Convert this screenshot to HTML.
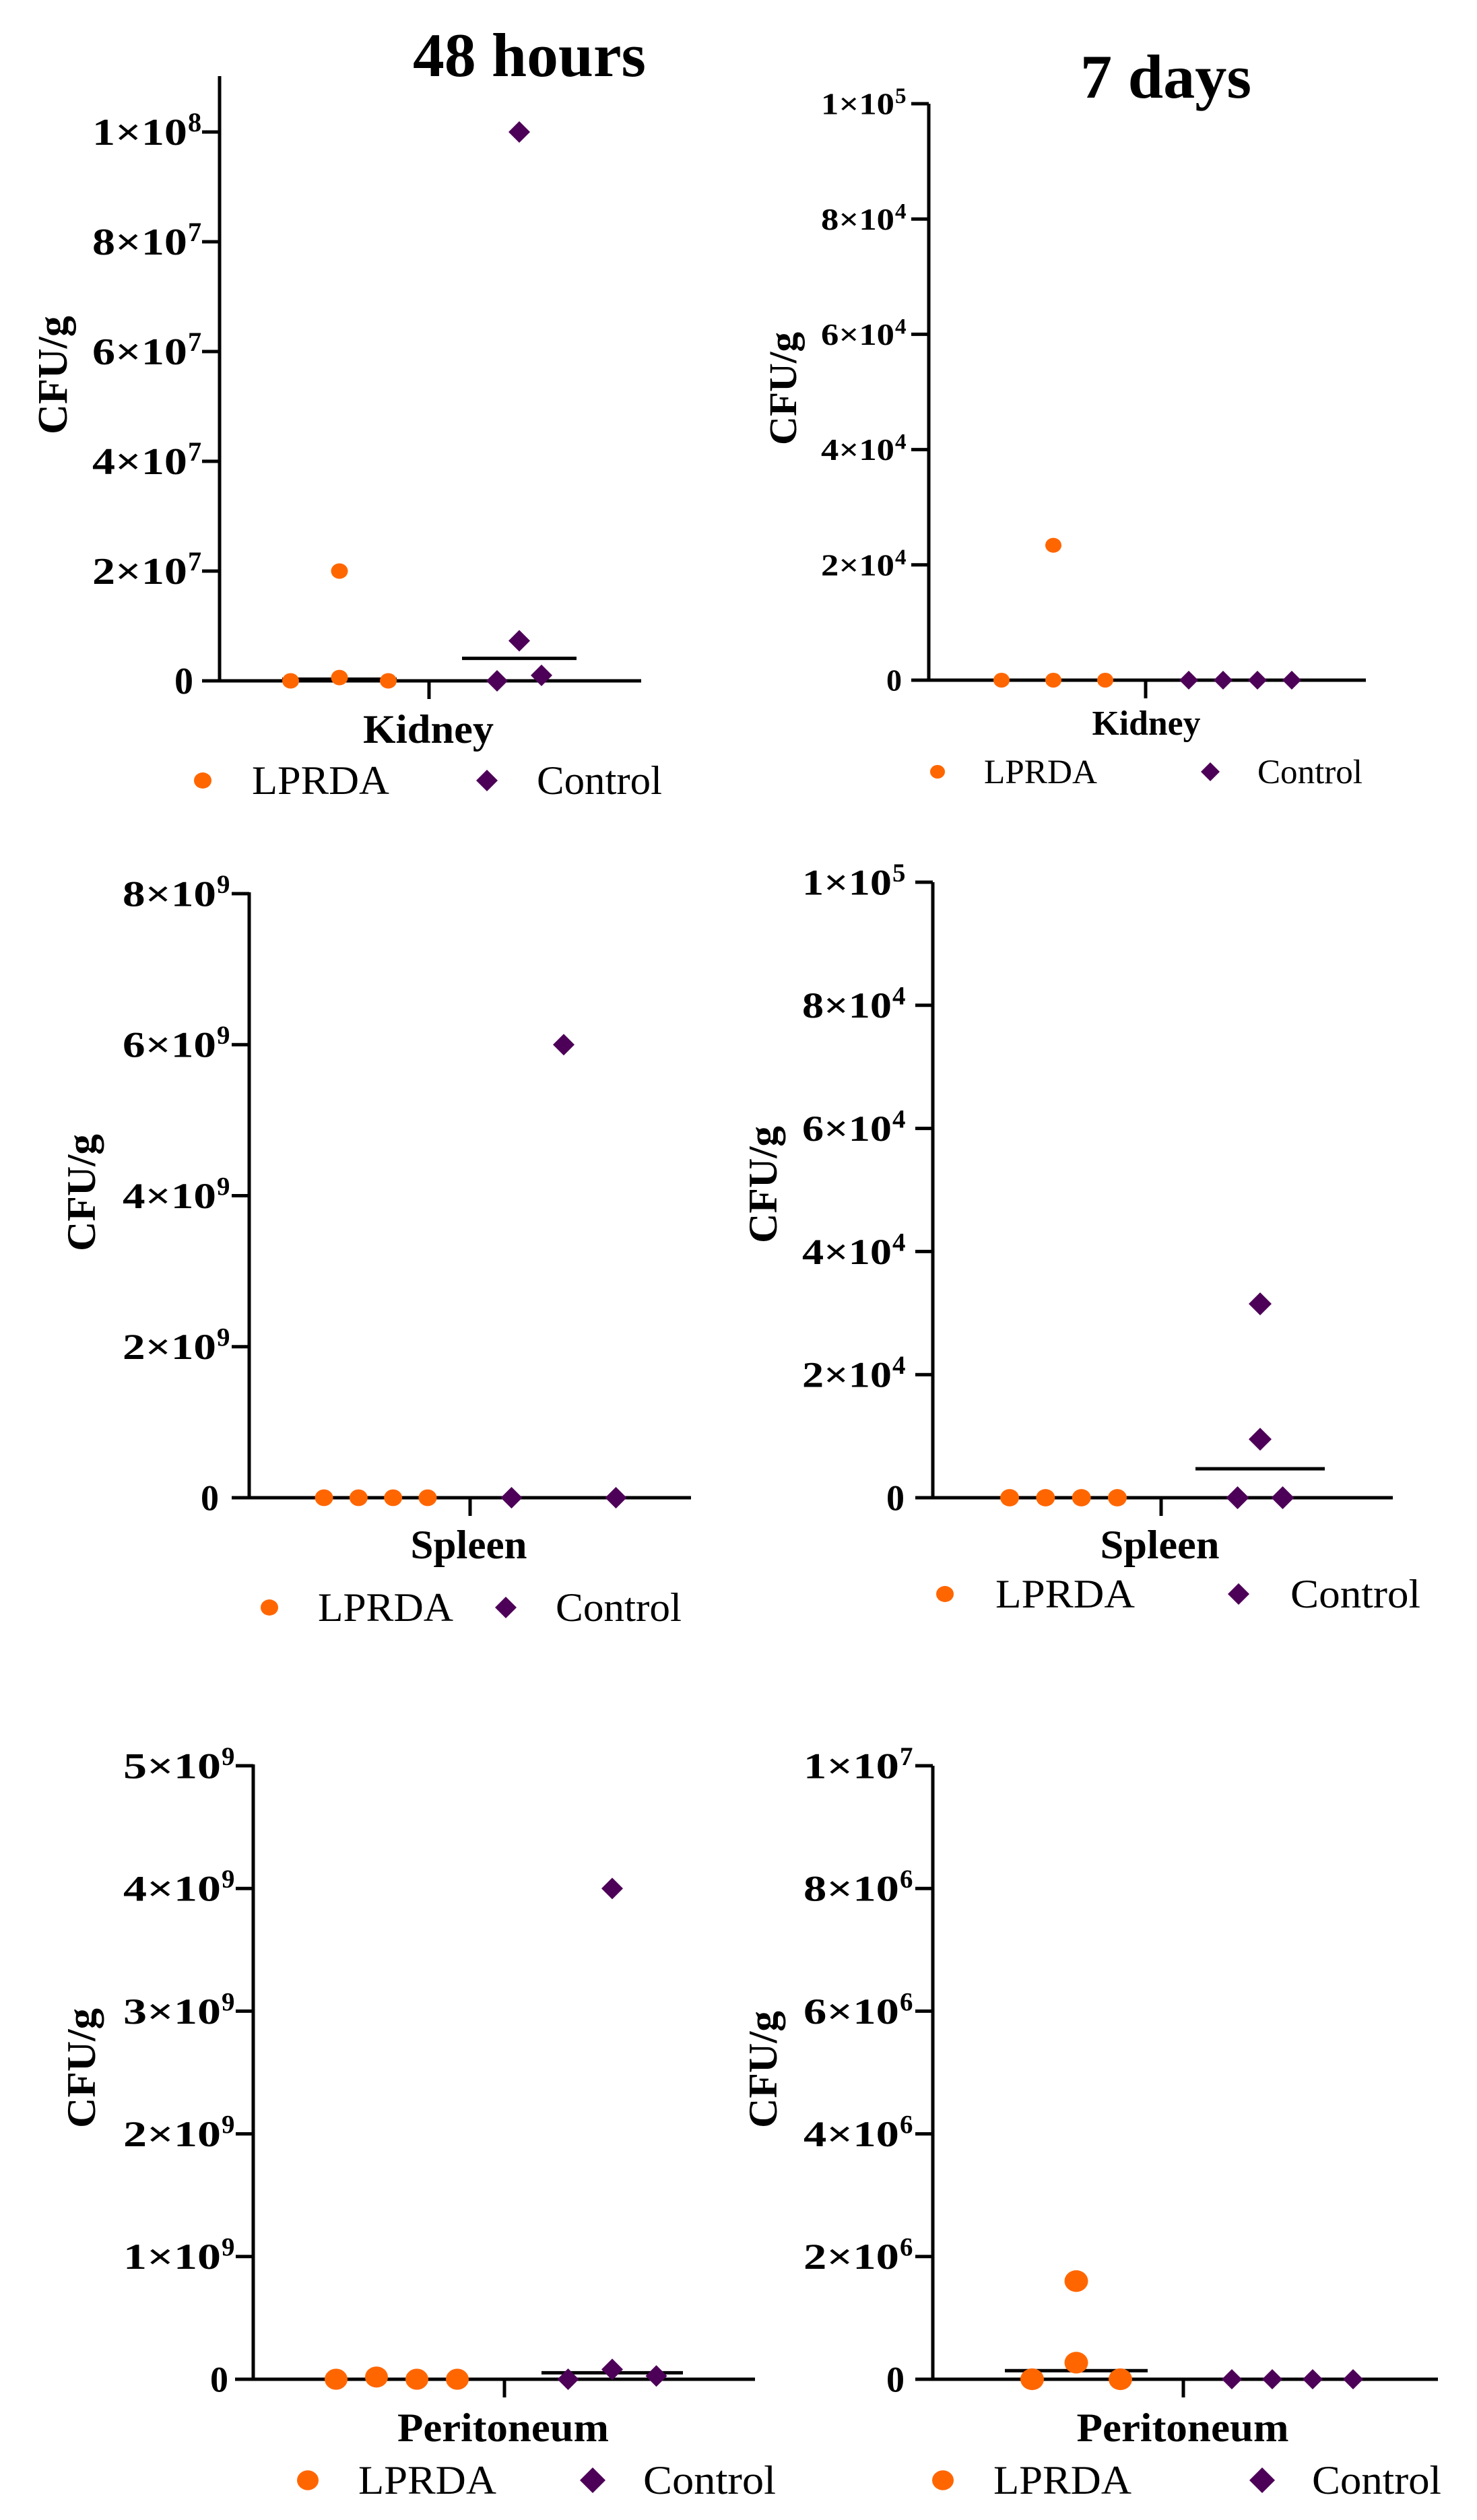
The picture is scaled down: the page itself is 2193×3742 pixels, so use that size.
<!DOCTYPE html>
<html><head><meta charset="utf-8">
<style>
html,body{margin:0;padding:0;background:#fff;}
svg{display:block;}
text{font-family:"Liberation Serif",serif;}
</style></head>
<body>
<svg id="fig" width="2193" height="3742" viewBox="0 0 2193 3742" xmlns="http://www.w3.org/2000/svg"></svg>
<script>
// ---- DATA ----
const kid48Lprda = [0, 6e5, 2e7, 0];
const kid48LprdaSlot = [-1, 0, 0, 1];
const kid48Ctrl = [0, 1e8, 7.3e6, 1e6];
const kid48CtrlSlot = [-1, 0, 0, 1];
const kid48Medians = [3e5, 4.1e6];
const kid48Ticks = [0, 2e7, 4e7, 6e7, 8e7, 1e8];
const kid48TickBase = ["0", "2×10", "4×10", "6×10", "8×10", "1×10"];
const kid48TickExp = ["", "7", "7", "7", "7", "8"];

const kid7Lprda = [0, 0, 2.34e4, 0];
const kid7LprdaSlot = [-1, 0, 0, 1];
const kid7Ctrl = [0, 0, 0, 0];
const kid7CtrlSlot = [-1.5, -0.5, 0.5, 1.5];
const kid7Medians = [0, 0];
const kid7Ticks = [0, 2e4, 4e4, 6e4, 8e4, 1e5];
const kid7TickBase = ["0", "2×10", "4×10", "6×10", "8×10", "1×10"];
const kid7TickExp = ["", "4", "4", "4", "4", "5"];

const spl48Lprda = [0, 0, 0, 0];
const spl48LprdaSlot = [-1.5, -0.5, 0.5, 1.5];
const spl48Ctrl = [0, 6e9, 0];
const spl48CtrlSlot = [-1, 0, 1];
const spl48Medians = [0, 0];
const spl48Ticks = [0, 2e9, 4e9, 6e9, 8e9];
const spl48TickBase = ["0", "2×10", "4×10", "6×10", "8×10"];
const spl48TickExp = ["", "9", "9", "9", "9"];

const spl7Lprda = [0, 0, 0, 0];
const spl7LprdaSlot = [-1.5, -0.5, 0.5, 1.5];
const spl7Ctrl = [0, 3.15e4, 9.5e3, 0];
const spl7CtrlSlot = [-1, 0, 0, 1];
const spl7Medians = [0, 4.7e3];
const spl7Ticks = [0, 2e4, 4e4, 6e4, 8e4, 1e5];
const spl7TickBase = ["0", "2×10", "4×10", "6×10", "8×10", "1×10"];
const spl7TickExp = ["", "4", "4", "4", "4", "5"];

const per48Lprda = [0, 1.8e7, 0, 0];
const per48LprdaSlot = [-1.5, -0.5, 0.5, 1.5];
const per48Ctrl = [0, 4e9, 8e7, 2.7e7];
const per48CtrlSlot = [-1, 0, 0, 1];
const per48Medians = [0, 5.3e7];
const per48Ticks = [0, 1e9, 2e9, 3e9, 4e9, 5e9];
const per48TickBase = ["0", "1×10", "2×10", "3×10", "4×10", "5×10"];
const per48TickExp = ["", "9", "9", "9", "9", "9"];

const per7Lprda = [0, 1.6e6, 2.7e5, 0];
const per7LprdaSlot = [-1, 0, 0, 1];
const per7Ctrl = [0, 0, 0, 0];
const per7CtrlSlot = [-1.5, -0.5, 0.5, 1.5];
const per7Medians = [1.4e5, 0];
const per7Ticks = [0, 2e6, 4e6, 6e6, 8e6, 1e7];
const per7TickBase = ["0", "2×10", "4×10", "6×10", "8×10", "1×10"];
const per7TickExp = ["", "6", "6", "6", "6", "7"];

const ORANGE = "#FF6600", PURPLE = "#4D0057";
const svg = document.getElementById('fig');
const NS = "http://www.w3.org/2000/svg";
function mk(tag, attrs, parent) {
  const e = document.createElementNS(NS, tag);
  for (const k in attrs) e.setAttribute(k, attrs[k]);
  (parent || svg).appendChild(e);
  return e;
}

function drawPanel(P, D) {
  const g = mk('g', {});
  
  
  const yPix = v => P.y0 - v / P.yMax * (P.y0 - P.yMaxY);
  const ya = mk('line', {x1: P.ax, y1: P.top, x2: P.ax, y2: P.y0 + 2.5, stroke: '#000', 'stroke-width': 5}, g);
  
  
  const xa = mk('line', {x1: P.xa0, y1: P.y0, x2: P.xa1, y2: P.y0, stroke: '#000', 'stroke-width': 5}, g);
  
  
  const ct = mk('line', {x1: P.ctick, y1: P.y0, x2: P.ctick, y2: P.y0 + 27, stroke: '#000', 'stroke-width': 5}, g);
  
  
  D.ticks.forEach((v, i) => {
    const y = yPix(v);
    const tk = mk('line', {x1: P.ax - 26, y1: y, x2: P.ax, y2: y, stroke: '#000', 'stroke-width': 5}, g);
    
    
    const t = mk('text', {y: y + P.tf * 0.34, 'font-size': P.tf, 'font-weight': 'bold'}, g);
    
    
    if (D.exp[i] === "") {
      t.setAttribute('x', P.supEnd - 6);
      t.setAttribute('text-anchor', 'end');
      t.textContent = D.base[i];
    } else {
      t.setAttribute('x', P.baseStart);
      t.setAttribute('textLength', P.baseW);
      t.setAttribute('lengthAdjust', 'spacingAndGlyphs');
      t.textContent = D.base[i];
      const s = mk('text', {x: P.baseStart + P.baseW + 1, y: y + P.tf * 0.34 - P.tf * 0.36, 'font-size': P.tf * 0.72, 'font-weight': 'bold'}, g);
      
      
      s.textContent = D.exp[i];
    }
  });
  const yt = mk('text', {transform: `translate(${P.cfuX},${P.cfuY}) rotate(-90)`, 'text-anchor': 'middle', 'font-size': P.cfuF, 'font-weight': 'bold', textLength: P.cfuL, lengthAdjust: 'spacingAndGlyphs'}, g);
  
  
  yt.textContent = 'CFU/g';
  const xl = mk('text', {x: P.xlX - P.xlW / 2, y: P.xlY, 'font-size': P.xlF, 'font-weight': 'bold', textLength: P.xlW, lengthAdjust: 'spacingAndGlyphs'}, g);
  
  
  xl.textContent = P.xlabel;
  if (P.title) {
    const tt = mk('text', {x: P.titleX, y: P.titleY, 'font-size': 92, 'font-weight': 'bold', textLength: P.titleW, lengthAdjust: 'spacingAndGlyphs'}, g);
    
    
    tt.textContent = P.title;
  }
  const mc = [P.lc, P.cc];
  D.medians.forEach((m, i) => {
    const y = yPix(m);
    const ml = mk('line', {x1: mc[i] - P.mh, y1: y, x2: mc[i] + P.mh, y2: y, stroke: '#000', 'stroke-width': 5}, g);
    
    
  });
  D.lprda.forEach((v, i) => {
    const c = mk('ellipse', {cx: P.lc + D.lslot[i] * P.ls, cy: yPix(v), rx: P.dr, ry: P.dr * 0.92, fill: ORANGE}, g);
    
    
  });
  D.ctrl.forEach((v, i) => {
    const x = P.cc + D.cslot[i] * P.cs, y = yPix(v), h = P.dh;
    const p = mk('polygon', {points: `${x},${y - h} ${x + h},${y} ${x},${y + h} ${x - h},${y}`, fill: PURPLE}, g);
    
    
  });
  const lg = mk('g', {}, g);
  
  
  const ly = P.lgY - 4;
  const ld = mk('ellipse', {cx: P.lgDot, cy: ly, rx: P.lgR, ry: P.lgR * 0.92, fill: ORANGE}, lg);
  
  
  const lt = mk('text', {x: P.lgT1, y: ly + P.lgF * 0.33, 'font-size': P.lgF, textLength: P.lgW1, lengthAdjust: 'spacingAndGlyphs'}, lg);
  
  
  lt.textContent = 'LPRDA';
  const x = P.lgDia, y = ly, h = P.lgR + 3;
  const lm = mk('polygon', {points: `${x},${y - h} ${x + h},${y} ${x},${y + h} ${x - h},${y}`, fill: PURPLE}, lg);
  
  
  const lt2 = mk('text', {x: P.lgT2, y: ly + P.lgF * 0.33, 'font-size': P.lgF, textLength: P.lgW2, lengthAdjust: 'spacingAndGlyphs'}, lg);
  
  
  lt2.textContent = 'Control';
}

drawPanel({name:'kidney-48h-panel', ax:326, top:113, y0:1011, yMax:1e8, yMaxY:196, xa0:302, xa1:952, ctick:637,
  tf:56, baseStart:137, baseW:141, supEnd:293, cfuX:99, cfuY:557, cfuF:62, cfuL:176,
  xlabel:'Kidney', xlX:636, xlY:1103, xlW:194, xlF:60, title:'48 hours', titleX:613, titleY:113, titleW:346,
  lc:504, ls:72.5, cc:771, cs:33, mh:85, dr:12.5, dh:16,
  lgY:1163, lgDot:301, lgR:13, lgT1:374, lgW1:204, lgDia:723, lgT2:797, lgW2:186, lgF:60},
  {lprda:kid48Lprda, lslot:kid48LprdaSlot, ctrl:kid48Ctrl, cslot:kid48CtrlSlot, medians:kid48Medians, ticks:kid48Ticks, base:kid48TickBase, exp:kid48TickExp});

drawPanel({name:'kidney-7d-panel', ax:1379, top:154, y0:1010, yMax:1e5, yMaxY:154, xa0:1354, xa1:2028, ctick:1701,
  tf:46, baseStart:1219, baseW:109, supEnd:1345, cfuX:1182, cfuY:577, cfuF:58, cfuL:168,
  xlabel:'Kidney', xlX:1702, xlY:1091, xlW:161, xlF:52, title:'7 days', titleX:1604, titleY:145, titleW:254,
  lc:1564, ls:77, cc:1841.5, cs:51, mh:85, dr:12, dh:14,
  lgY:1150, lgDot:1392, lgR:11, lgT1:1461, lgW1:168, lgDia:1797, lgT2:1867, lgW2:156, lgF:51},
  {lprda:kid7Lprda, lslot:kid7LprdaSlot, ctrl:kid7Ctrl, cslot:kid7CtrlSlot, medians:kid7Medians, ticks:kid7Ticks, base:kid7TickBase, exp:kid7TickExp});

drawPanel({name:'spleen-48h-panel', ax:370, top:1325, y0:2224, yMax:8e9, yMaxY:1327, xa0:345, xa1:1026, ctick:698,
  tf:54, baseStart:182, baseW:139, supEnd:331, cfuX:141, cfuY:1771, cfuF:60, cfuL:174,
  xlabel:'Spleen', xlX:696, xlY:2314, xlW:173, xlF:60, title:null,
  lc:558, ls:51.3, cc:837, cs:77.5, mh:90, dr:13.5, dh:16,
  lgY:2391, lgDot:400, lgR:13, lgT1:472, lgW1:201, lgDia:751, lgT2:825, lgW2:187, lgF:60},
  {lprda:spl48Lprda, lslot:spl48LprdaSlot, ctrl:spl48Ctrl, cslot:spl48CtrlSlot, medians:spl48Medians, ticks:spl48Ticks, base:spl48TickBase, exp:spl48TickExp});

drawPanel({name:'spleen-7d-panel', ax:1385, top:1310, y0:2224, yMax:1e5, yMaxY:1310, xa0:1359, xa1:2068, ctick:1724,
  tf:54, baseStart:1191, baseW:133, supEnd:1349, cfuX:1153, cfuY:1759, cfuF:60, cfuL:174,
  xlabel:'Spleen', xlX:1722, xlY:2314, xlW:177, xlF:60, title:null,
  lc:1579, ls:53.3, cc:1871, cs:33.5, mh:96, dr:14, dh:17,
  lgY:2371, lgDot:1403, lgR:13, lgT1:1478, lgW1:207, lgDia:1839, lgT2:1916, lgW2:193, lgF:60},
  {lprda:spl7Lprda, lslot:spl7LprdaSlot, ctrl:spl7Ctrl, cslot:spl7CtrlSlot, medians:spl7Medians, ticks:spl7Ticks, base:spl7TickBase, exp:spl7TickExp});

drawPanel({name:'peritoneum-48h-panel', ax:376, top:2620, y0:3533, yMax:5e9, yMaxY:2622, xa0:349, xa1:1121, ctick:749,
  tf:54, baseStart:183, baseW:145, supEnd:345, cfuX:141, cfuY:3071, cfuF:60, cfuL:178,
  xlabel:'Peritoneum', xlX:747, xlY:3625, xlW:314, xlF:60, title:null,
  lc:589, ls:60, cc:909, cs:65.5, mh:105, dr:17, dh:16,
  lgY:3687, lgDot:457, lgR:16, lgT1:532, lgW1:205, lgDia:880, lgT2:955, lgW2:197, lgF:60},
  {lprda:per48Lprda, lslot:per48LprdaSlot, ctrl:per48Ctrl, cslot:per48CtrlSlot, medians:per48Medians, ticks:per48Ticks, base:per48TickBase, exp:per48TickExp});

drawPanel({name:'peritoneum-7d-panel', ax:1385, top:2622, y0:3533, yMax:1e7, yMaxY:2622, xa0:1359, xa1:2135, ctick:1757,
  tf:54, baseStart:1193, baseW:142, supEnd:1349, cfuX:1153, cfuY:3073, cfuF:60, cfuL:174,
  xlabel:'Peritoneum', xlX:1756, xlY:3625, xlW:315, xlF:60, title:null,
  lc:1598, ls:65.5, cc:1919, cs:60, mh:106, dr:17.5, dh:15,
  lgY:3687, lgDot:1400, lgR:16, lgT1:1475, lgW1:205, lgDia:1874, lgT2:1948, lgW2:192, lgF:60},
  {lprda:per7Lprda, lslot:per7LprdaSlot, ctrl:per7Ctrl, cslot:per7CtrlSlot, medians:per7Medians, ticks:per7Ticks, base:per7TickBase, exp:per7TickExp});
</script>
</body></html>
